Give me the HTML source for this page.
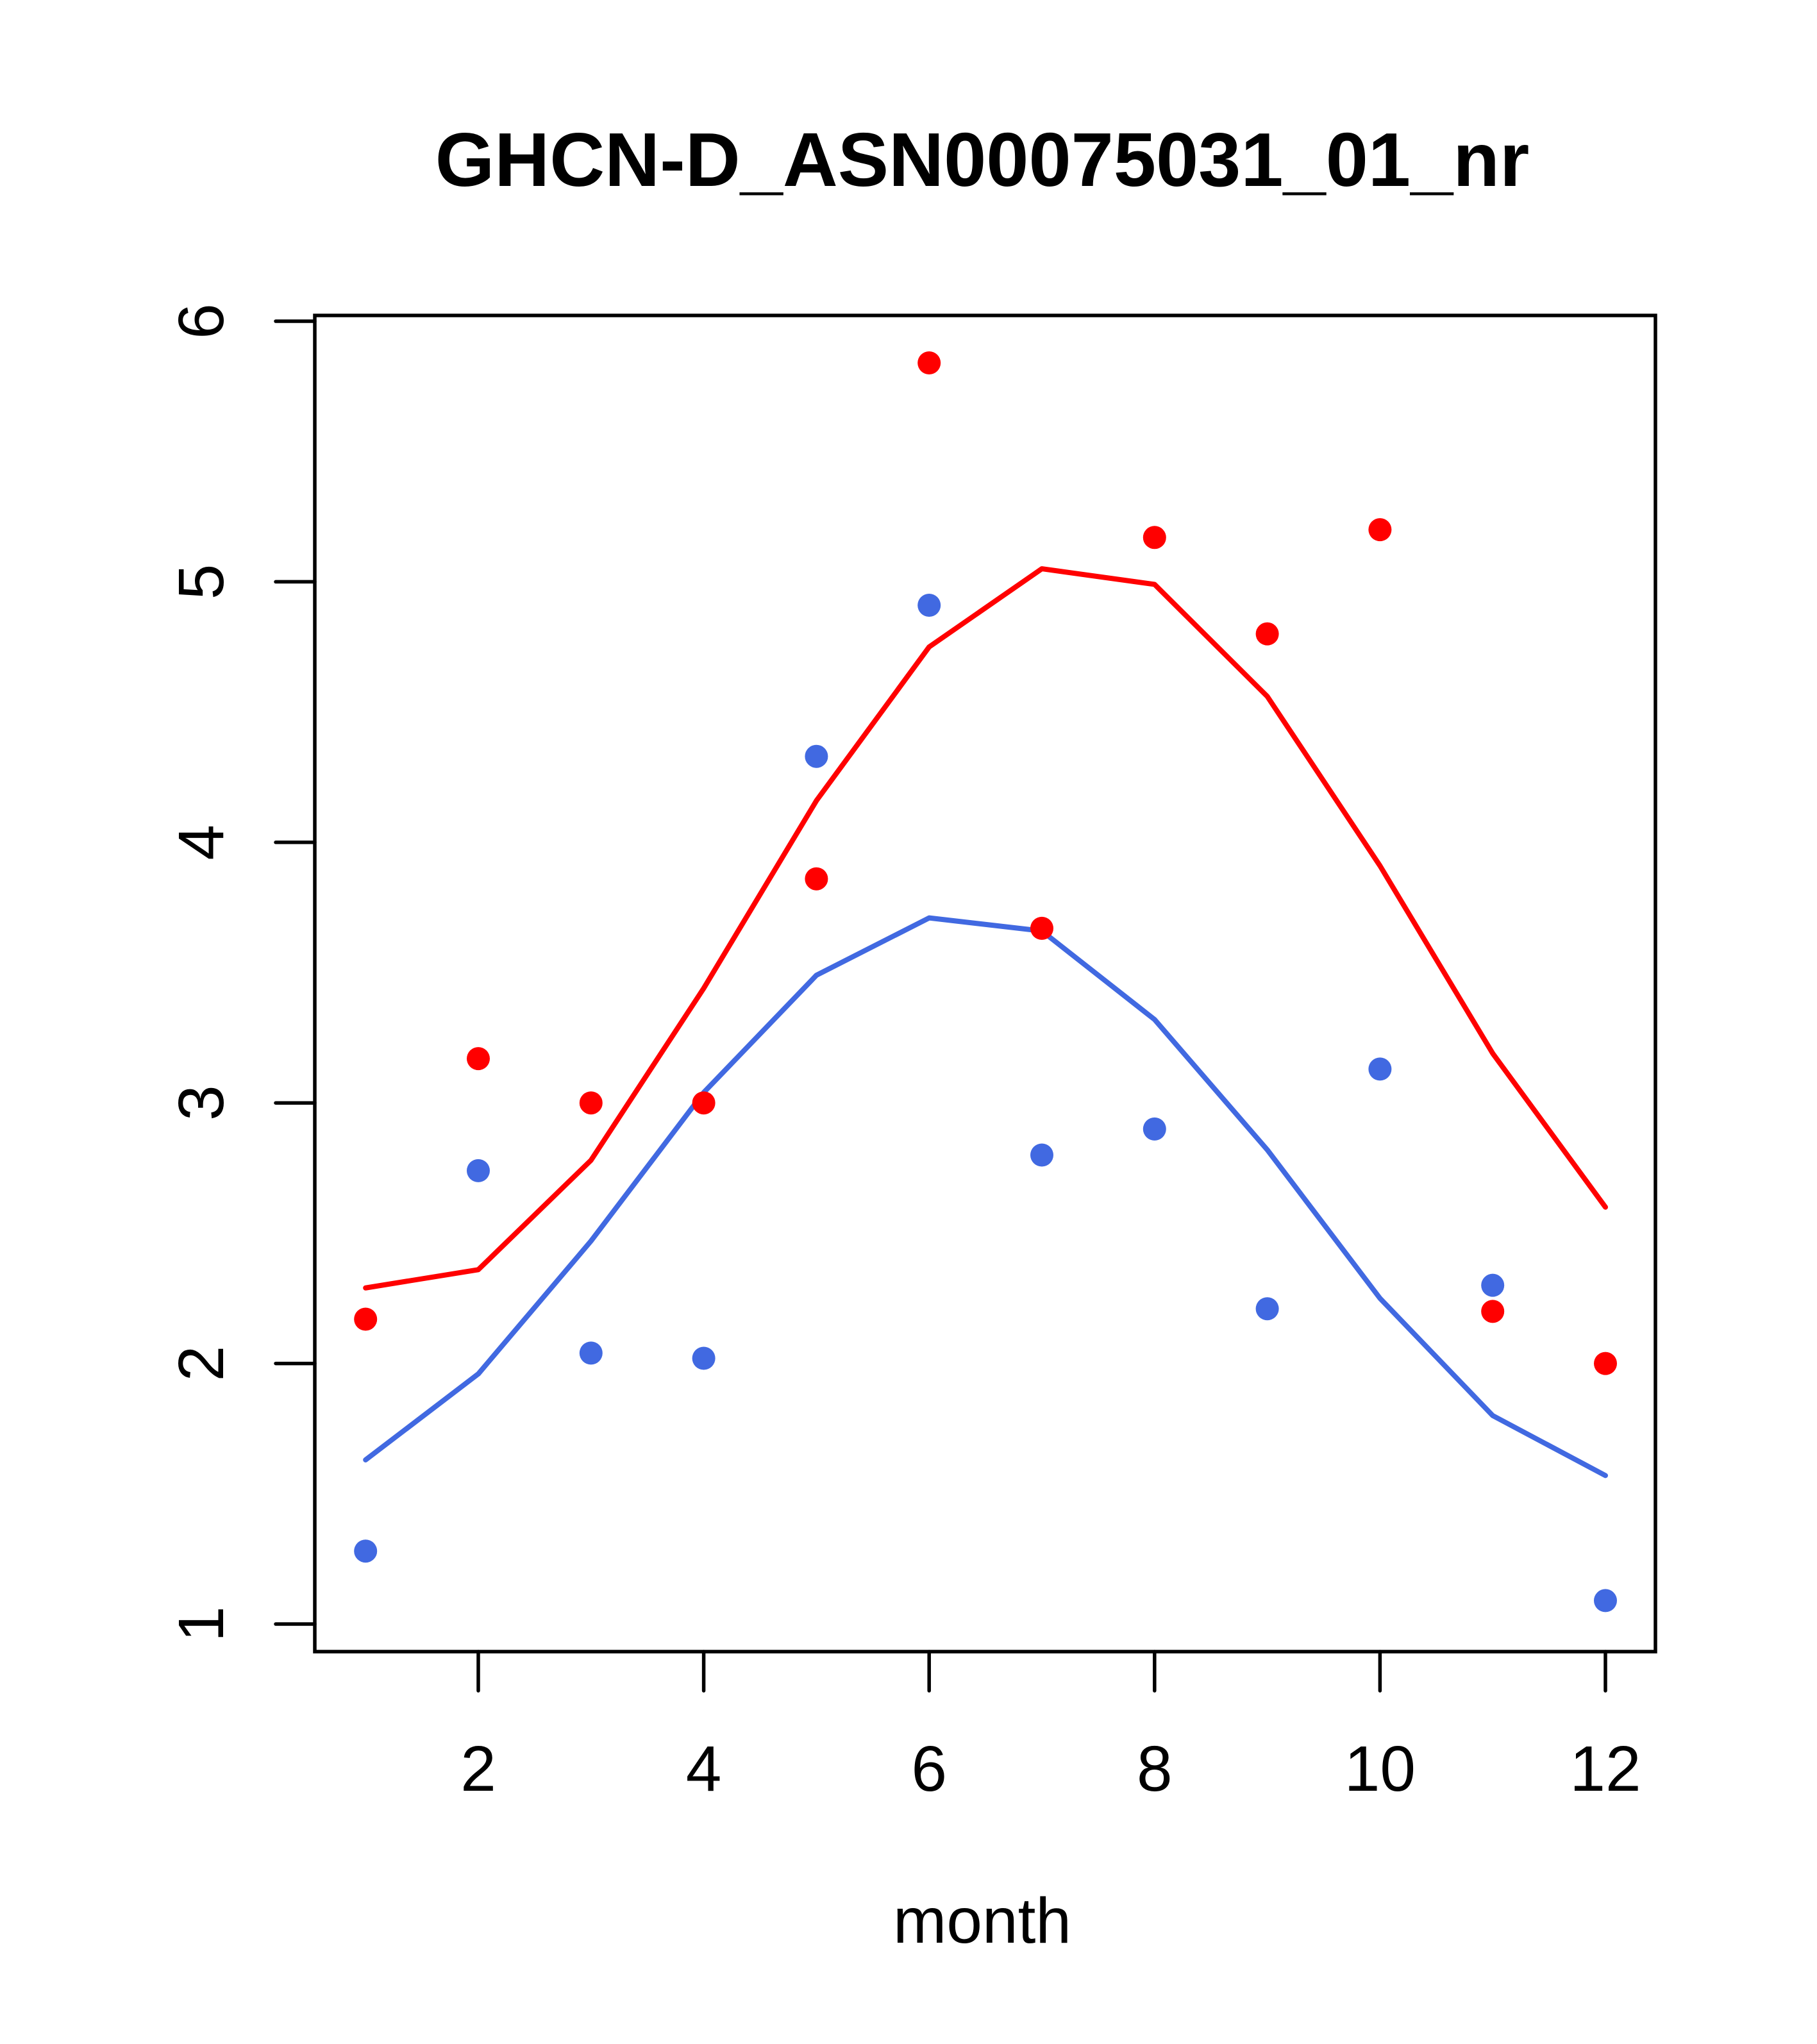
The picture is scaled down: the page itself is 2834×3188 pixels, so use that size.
<!DOCTYPE html>
<html><head><meta charset="utf-8"><style>
html,body{margin:0;padding:0;background:#fff;}
svg{display:block;}
text{font-family:"Liberation Sans",Arial,sans-serif;fill:#000;}
</style></head><body>
<svg id="s" width="2834" height="3188" viewBox="0 0 2834 3188" xmlns="http://www.w3.org/2000/svg">
<rect width="2834" height="3188" fill="#fff"/>
<text x="1532" y="290" font-size="119" font-weight="bold" text-anchor="middle">GHCN-D_ASN00075031_01_nr</text>
<rect x="491" y="492" width="2091" height="2084" fill="none" stroke="#000" stroke-width="5.5"/>
<g id="g"></g>
<text x="1532" y="3030" font-size="100" text-anchor="middle">month</text>
</svg>
<script>
var X=function(m){return 570.2+(m-1)*175.8;};
var Y=function(v){return 501+(6-v)*406.4;};
var g=document.getElementById('g'),h='';
for(var m=2;m<=12;m+=2){h+='<line x1="'+X(m)+'" y1="2576" x2="'+X(m)+'" y2="2637" stroke="#000" stroke-width="5.5" stroke-linecap="round"/>';
h+='<text x="'+X(m)+'" y="2793" font-size="100" text-anchor="middle">'+m+'</text>';}
for(var v=1;v<=6;v++){h+='<line x1="430" y1="'+Y(v)+'" x2="491" y2="'+Y(v)+'" stroke="#000" stroke-width="5.5" stroke-linecap="round"/>';
h+='<text transform="translate(348,'+Y(v)+') rotate(-90)" font-size="100" text-anchor="middle">'+v+'</text>';}
var rl=[2.29,2.36,2.78,3.44,4.16,4.75,5.05,4.99,4.56,3.91,3.19,2.60];
var bl=[1.63,1.96,2.47,3.04,3.49,3.71,3.66,3.32,2.82,2.25,1.80,1.57];
var rp=[2.17,3.17,3.0,3.0,3.86,5.84,3.67,5.17,4.80,5.20,2.20,2.0];
var bp=[1.28,2.74,2.04,2.02,4.33,4.91,2.80,2.90,2.21,3.13,2.30,1.09];
function pl(a,c){var p=a.map(function(v,i){return X(i+1)+','+Y(v);}).join(' ');
return '<polyline points="'+p+'" fill="none" stroke="'+c+'" stroke-width="8" stroke-linejoin="round" stroke-linecap="round"/>';}
function pts(a,c){return a.map(function(v,i){return '<circle cx="'+X(i+1)+'" cy="'+Y(v)+'" r="18" fill="'+c+'"/>';}).join('');}
h+=pl(rl,'#ff0000')+pl(bl,'#4169e1')+pts(bp,'#4169e1')+pts(rp,'#ff0000');
g.innerHTML=h;
</script>
</body></html>
